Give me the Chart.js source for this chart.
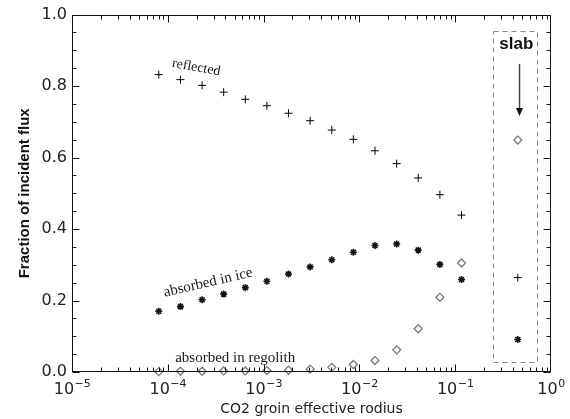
<!DOCTYPE html>
<html><head><meta charset="utf-8">
<script src="https://cdn.jsdelivr.net/npm/chart.js@4"></script>
<style>html,body{margin:0;padding:0;background:#fff}canvas{display:block}</style>
</head><body>
<canvas id="c" width="570" height="419"></canvas>
<script>
// ---- data ----
const grainRadius = [8.05e-5, 1.355e-4, 2.28e-4, 3.83e-4, 6.44e-4, 1.082e-3, 1.82e-3, 3.06e-3, 5.15e-3, 8.65e-3, 1.455e-2, 2.45e-2, 4.11e-2, 6.92e-2, 0.1164];
const reflected = [0.832, 0.818, 0.802, 0.783, 0.763, 0.745, 0.724, 0.703, 0.677, 0.651, 0.619, 0.583, 0.543, 0.496, 0.439];
const absorbedIce = [0.170, 0.183, 0.202, 0.218, 0.236, 0.254, 0.274, 0.294, 0.314, 0.335, 0.354, 0.358, 0.341, 0.301, 0.259];
const absorbedRegolith = [0.001, 0.002, 0.002, 0.003, 0.003, 0.004, 0.005, 0.008, 0.013, 0.021, 0.032, 0.062, 0.121, 0.209, 0.305];
const slabRadius = [0.45];
const slabReflected = [0.264];
const slabIce = [0.091];
const slabRegolith = [0.649];
const yTickValues = [0, 0.2, 0.4, 0.6, 0.8, 1.0];
const xDecades = [1e-5, 1e-4, 1e-3, 1e-2, 1e-1, 1];
const xTickBase = '10';
const xTickExponents = ['\u22125', '\u22124', '\u22123', '\u22122', '\u22121', '0'];
const seriesLabels = ['reflected', 'absorbed in ice', 'absorbed in regolith'];
const slabLabel = 'slab';
const xTitle = 'CO2 groin effective rodius';
const yTitle = 'Fraction of incident flux';

const pts = (xs, ys) => xs.map((x, i) => ({ x, y: ys[i] }));

const frame = {
  id: 'frame',
  afterDatasetsDraw(chart) {
    const { ctx, chartArea: a, scales: { x, y } } = chart;
    const line = (x1, y1, x2, y2) => { ctx.beginPath(); ctx.moveTo(x1, y1); ctx.lineTo(x2, y2); ctx.stroke(); };
    ctx.save();
    ctx.strokeStyle = '#111'; ctx.lineWidth = 1;
    const L = Math.round(a.left) + 0.5, R = Math.round(a.right) - 0.5, T = Math.round(a.top) + 0.5, B = Math.round(a.bottom) - 0.5;
    ctx.strokeRect(L, T, R - L, B - T);
    // y ticks every 0.05, majors at labelled values
    for (let i = 0; i <= 20; i++) {
      const v = i * 0.05;
      const py = Math.round(y.getPixelForValue(v)) + 0.5;
      const len = (i % 4 === 0) ? 7 : 4;
      line(L, py, L + len, py);
      line(R - len, py, R, py);
    }
    // x log ticks
    for (let d = 0; d < xDecades.length - 1; d++) {
      for (let m = 1; m <= 9; m++) {
        const v = xDecades[d] * m;
        const px = Math.round(x.getPixelForValue(v)) + 0.5;
        const len = (m === 1) ? 7 : 4;
        line(px, B, px, B - len);
        line(px, T, px, T + len);
      }
    }
    // x tick labels: 10 with superscript exponent
    ctx.fillStyle = '#222';
    ctx.textBaseline = 'alphabetic'; ctx.textAlign = 'left';
    const baseFont = '16px "DejaVu Sans", sans-serif', expFont = '11px "DejaVu Sans", sans-serif';
    xDecades.forEach((v, i) => {
      ctx.font = baseFont; const w1 = ctx.measureText(xTickBase).width;
      ctx.font = expFont; const w2 = ctx.measureText(xTickExponents[i]).width;
      const px = x.getPixelForValue(v);
      const x0 = px - (w1 + w2) / 2;
      ctx.font = baseFont; ctx.fillText(xTickBase, x0, a.bottom + 22);
      ctx.font = expFont; ctx.fillText(xTickExponents[i], x0 + w1 + 0.5, a.bottom + 15);
    });
    // annotations
    ctx.fillStyle = '#1a1a1a';
    ctx.textAlign = 'center'; ctx.textBaseline = 'middle';
    const txt = (s, vx, vy, ang, size) => {
      ctx.save();
      ctx.font = size + 'px "Liberation Serif", serif';
      ctx.translate(x.getPixelForValue(vx), y.getPixelForValue(vy));
      ctx.rotate(ang * Math.PI / 180);
      ctx.fillText(s, 0, 0);
      ctx.restore();
    };
    txt(seriesLabels[0], 1.98e-4, 0.852, 10, 14);
    txt(seriesLabels[1], 2.64e-4, 0.250, -13, 15);
    txt(seriesLabels[2], 5.05e-4, 0.040, 0, 15);
    // slab box
    ctx.strokeStyle = '#888'; ctx.setLineDash([5, 4]);
    const bx1 = x.getPixelForValue(0.247), bx2 = x.getPixelForValue(0.718);
    const by1 = y.getPixelForValue(0.953), by2 = y.getPixelForValue(0.026);
    ctx.strokeRect(Math.round(bx1) + 0.5, Math.round(by1) + 0.5, Math.round(bx2 - bx1), Math.round(by2 - by1));
    ctx.setLineDash([]);
    // slab text
    ctx.fillStyle = '#111';
    ctx.font = 'bold 17px "Liberation Sans", Arial, sans-serif';
    ctx.fillText(slabLabel, x.getPixelForValue(0.435), y.getPixelForValue(0.916));
    // arrow
    const ax = Math.round(x.getPixelForValue(0.46)) + 0.5;
    const ay1 = y.getPixelForValue(0.862), ay2 = y.getPixelForValue(0.716);
    ctx.strokeStyle = '#444'; ctx.lineWidth = 1.5;
    line(ax, ay1, ax, ay2 - 6);
    ctx.fillStyle = '#111';
    ctx.beginPath(); ctx.moveTo(ax - 3.5, ay2 - 8); ctx.lineTo(ax + 3.5, ay2 - 8); ctx.lineTo(ax, ay2); ctx.closePath(); ctx.fill();
    ctx.restore();
  }
};

new Chart(document.getElementById('c'), {
  type: 'scatter',
  data: {
    datasets: [
      { label: seriesLabels[0], data: pts(grainRadius.concat(slabRadius), reflected.concat(slabReflected)),
        pointStyle: 'cross', pointRadius: 4, borderColor: '#000', borderWidth: 1, clip: false },
      { label: seriesLabels[1], data: pts(grainRadius.concat(slabRadius), absorbedIce.concat(slabIce)),
        pointStyle: 'star', pointRadius: 3.5, borderColor: '#111', borderWidth: 1.6, clip: false },
      { label: seriesLabels[2], data: pts(grainRadius.concat(slabRadius), absorbedRegolith.concat(slabRegolith)),
        pointStyle: 'rectRot', pointRadius: 4, borderColor: '#7a7a7a', backgroundColor: 'rgba(255,255,255,0)', borderWidth: 1.3, clip: false }
    ]
  },
  options: {
    responsive: false, animation: false, devicePixelRatio: 1,
    layout: { padding: { top: 10, right: 19, left: 0, bottom: 0 } },
    plugins: { legend: { display: false }, tooltip: { enabled: false } },
    scales: {
      x: {
        type: 'logarithmic', min: xDecades[0], max: xDecades[xDecades.length - 1],
        grid: { display: false, drawTicks: false }, border: { display: false },
        afterFit: s => { s.height = 47; },
        ticks: { display: false },
        title: { display: true, text: xTitle, color: '#222', padding: { top: 0, bottom: 1 },
          font: { family: '"DejaVu Sans", sans-serif', size: 14 } }
      },
      y: {
        min: 0, max: 1,
        grid: { display: false, drawTicks: false }, border: { display: false },
        afterFit: s => { s.width = 72; },
        afterBuildTicks: s => { s.ticks = yTickValues.map(v => ({ value: v })); },
        ticks: { padding: 5, color: '#222', font: { family: '"DejaVu Sans", sans-serif', size: 16 },
          callback: v => Number(v).toFixed(1) },
        title: { display: true, text: yTitle, color: '#111', padding: { top: 16, bottom: 0 },
          font: { family: '"Liberation Sans", Arial, sans-serif', size: 15, weight: 'bold' } }
      }
    }
  },
  plugins: [frame]
});
</script>
</body></html>
